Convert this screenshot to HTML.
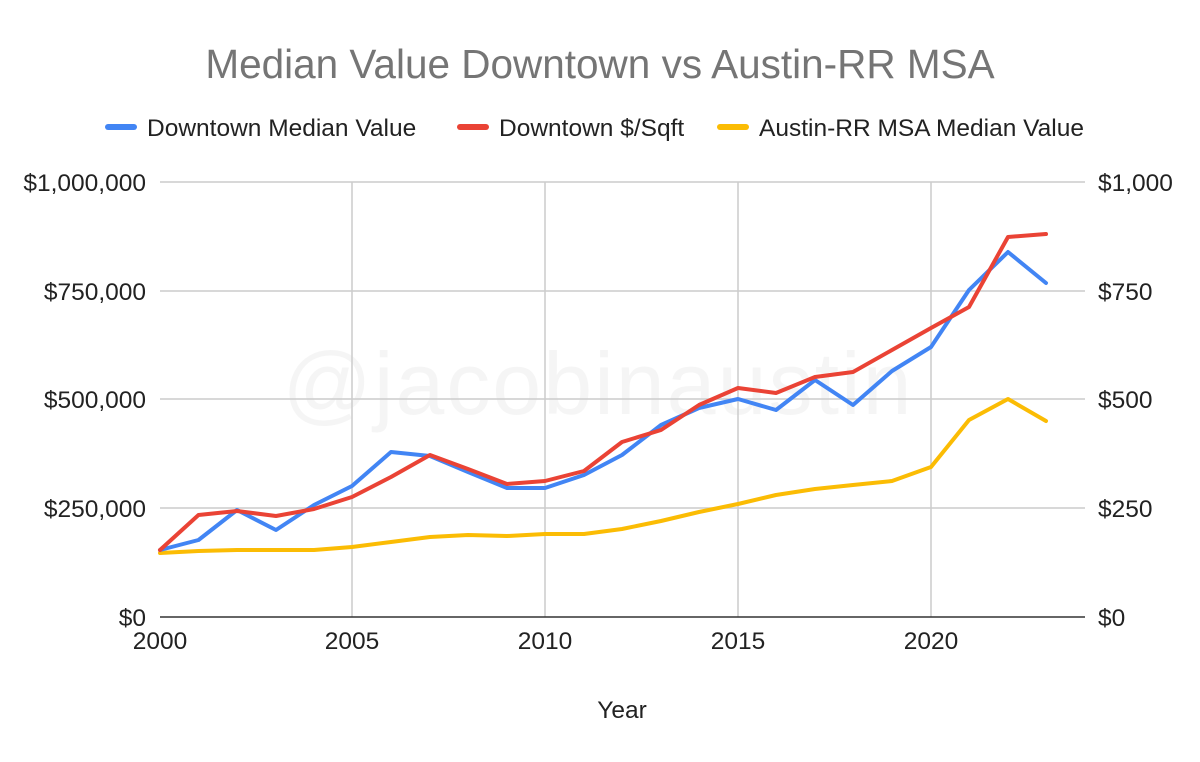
<!DOCTYPE html>
<html><head><meta charset="utf-8"><style>
html,body{margin:0;padding:0;background:#fff;}
svg{display:block;font-family:"Liberation Sans",Arial,sans-serif;}
</style></head><body>
<svg width="1200" height="762" viewBox="0 0 1200 762" xmlns="http://www.w3.org/2000/svg">
<rect width="1200" height="762" fill="#fff"/>
<text x="600" y="78" text-anchor="middle" font-size="40.5" fill="#757575">Median Value Downtown vs Austin-RR MSA</text>
<g font-size="24.5" fill="#222">
<line x1="108" y1="127" x2="134" y2="127" stroke="#4285f4" stroke-width="6" stroke-linecap="round"/>
<text x="147" y="136">Downtown Median Value</text>
<line x1="460" y1="127" x2="486" y2="127" stroke="#ea4335" stroke-width="6" stroke-linecap="round"/>
<text x="499" y="136">Downtown $/Sqft</text>
<line x1="720" y1="127" x2="746" y2="127" stroke="#fbbc04" stroke-width="6" stroke-linecap="round"/>
<text x="759" y="136">Austin-RR MSA Median Value</text>
</g>
<text x="598" y="414" text-anchor="middle" font-size="88" fill="#000" fill-opacity="0.04" letter-spacing="2">@jacobinaustin</text>
<g stroke="#cccccc" stroke-width="1.5">
<line x1="160" y1="182" x2="1085" y2="182"/>
<line x1="160" y1="291" x2="1085" y2="291"/>
<line x1="160" y1="399" x2="1085" y2="399"/>
<line x1="160" y1="508" x2="1085" y2="508"/>
<line x1="352" y1="182" x2="352" y2="617"/>
<line x1="545" y1="182" x2="545" y2="617"/>
<line x1="738" y1="182" x2="738" y2="617"/>
<line x1="931" y1="182" x2="931" y2="617"/>
</g>
<line x1="160" y1="617" x2="1085" y2="617" stroke="#333" stroke-width="1.5"/>
<g font-size="24.5" fill="#222">
<text x="146" y="191" text-anchor="end">$1,000,000</text>
<text x="146" y="300" text-anchor="end">$750,000</text>
<text x="146" y="408" text-anchor="end">$500,000</text>
<text x="146" y="517" text-anchor="end">$250,000</text>
<text x="146" y="626" text-anchor="end">$0</text>
<text x="1098" y="191">$1,000</text>
<text x="1098" y="300">$750</text>
<text x="1098" y="408">$500</text>
<text x="1098" y="517">$250</text>
<text x="1098" y="626">$0</text>
<text x="160" y="649" text-anchor="middle">2000</text>
<text x="352" y="649" text-anchor="middle">2005</text>
<text x="545" y="649" text-anchor="middle">2010</text>
<text x="738" y="649" text-anchor="middle">2015</text>
<text x="931" y="649" text-anchor="middle">2020</text>
<text x="622" y="718" text-anchor="middle">Year</text>
</g>
<g fill="none" stroke-width="4" stroke-linejoin="round" stroke-linecap="round">
<polyline stroke="#fbbc04" points="160,553 198.5,551 237,550 276,550 314,550 352,547 391,542 430,537 468,535 507,536 545,534 584,534 622,529 661,521 699,512 738,504 776,495 815,489 853,485 892,481 931,467 969,420 1008,399 1046,421"/>
<polyline stroke="#4285f4" points="160,550 198.5,540 237,510 276,530 314,505 352,486 391,452 430,456 468,472 507,488 545,488 584,475 622,455 661,425 699,408 738,399 776,410 815,380 853,405 892,371 931,347 969,290 1008,252 1046,283"/>
<polyline stroke="#ea4335" points="160,550 198.5,515 237,511 276,516 314,509 352,497 391,477 430,455 468,469 507,484 545,481 584,471 622,442 661,430 699,405 738,388 776,393 815,377 853,372 892,350 931,328 969,307 1008,237 1046,234"/>
</g>
</svg>
</body></html>
